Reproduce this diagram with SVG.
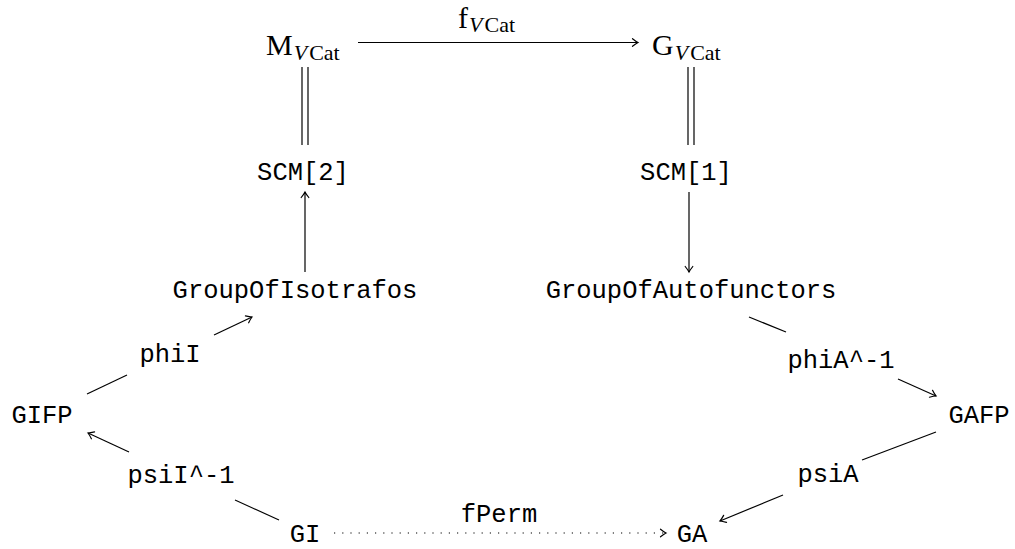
<svg xmlns="http://www.w3.org/2000/svg" width="1015" height="549" viewBox="0 0 1015 549">
<style>
.tt{font-family:"Liberation Mono","DejaVu Sans Mono",monospace;font-size:25.5px;fill:#000;text-anchor:middle}
.rm{font-family:"Liberation Serif","DejaVu Serif",serif;fill:#000;font-size:30px}
.sb{font-size:22px}
.ln{stroke:#000;stroke-width:1.2;fill:none}
.ar{stroke:#000;stroke-width:1.2;fill:none;marker-end:url(#ah)}
.dt{stroke:#000;stroke-width:1.2;fill:none;stroke-dasharray:1.2 7;marker-end:url(#ah)}
</style>
<defs>
<marker id="ah" markerWidth="12" markerHeight="12" refX="9" refY="6" orient="auto" markerUnits="userSpaceOnUse">
<path d="M3.5 2.2 Q7 5 9 6 Q7 7 3.5 9.8" stroke="#000" stroke-width="1.2" fill="none" stroke-linecap="round"/>
</marker>
</defs>
<g id="connectors">
<line class="ar" x1="358" y1="42.5" x2="638" y2="42.5"/>
<line class="ln" x1="302" y1="67" x2="302" y2="145"/>
<line class="ln" x1="308" y1="67" x2="308" y2="145"/>
<line class="ln" x1="688" y1="67" x2="688" y2="145"/>
<line class="ln" x1="694" y1="67" x2="694" y2="145"/>
<line class="ar" x1="305" y1="272" x2="305" y2="192"/>
<line class="ar" x1="689" y1="192" x2="689" y2="272"/>
<line class="ln" x1="87" y1="394" x2="127" y2="375"/>
<line class="ar" x1="214" y1="335" x2="252" y2="317"/>
<line class="ar" x1="129" y1="452" x2="88" y2="433"/>
<line class="ln" x1="235" y1="500" x2="279" y2="520"/>
<line class="ln" x1="749" y1="317" x2="786" y2="332"/>
<line class="ar" x1="898" y1="379" x2="936" y2="396"/>
<line class="ln" x1="936" y1="432" x2="862" y2="460"/>
<line class="ar" x1="783" y1="495" x2="720" y2="521"/>
<line class="dt" x1="334" y1="533" x2="666" y2="533"/>
<text class="rm" x="458" y="28">f<tspan class="sb" dy="4" dx="1"><tspan font-style="italic">V</tspan><tspan dx="2">Cat</tspan></tspan></text>
<text class="tt" x="499" y="522">fPerm</text>
</g>
<g id="node-MVCat"><text class="rm" x="266" y="55">M<tspan class="sb" dy="5" dx="1"><tspan font-style="italic">V</tspan><tspan dx="2">Cat</tspan></tspan></text></g>
<g id="node-GVCat"><text class="rm" x="652" y="55">G<tspan class="sb" dy="5" dx="1"><tspan font-style="italic">V</tspan><tspan dx="2">Cat</tspan></tspan></text></g>
<g id="node-SCM2"><text class="tt" x="303" y="180">SCM[2]</text></g>
<g id="node-SCM1"><text class="tt" x="686" y="180">SCM[1]</text></g>
<g id="node-GroupOfIsotrafos"><text class="tt" x="295" y="298">GroupOfIsotrafos</text></g>
<g id="node-GroupOfAutofunctors"><text class="tt" x="691" y="298">GroupOfAutofunctors</text></g>
<g id="node-phiI"><text class="tt" x="170" y="362">phiI</text></g>
<g id="node-phiAinv"><text class="tt" x="841" y="368">phiA^-1</text></g>
<g id="node-GIFP"><text class="tt" x="42" y="423">GIFP</text></g>
<g id="node-GAFP"><text class="tt" x="979" y="423">GAFP</text></g>
<g id="node-psiIinv"><text class="tt" x="181" y="483">psiI^-1</text></g>
<g id="node-psiA"><text class="tt" x="828" y="482">psiA</text></g>
<g id="node-GI"><text class="tt" x="305" y="542">GI</text></g>
<g id="node-GA"><text class="tt" x="692" y="542">GA</text></g>
</svg>
